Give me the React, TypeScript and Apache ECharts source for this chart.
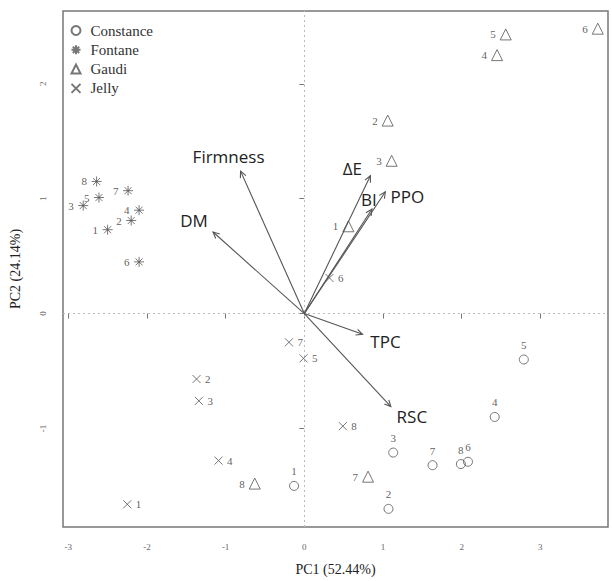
import React, { useEffect, useRef } from "react";
import * as echarts from "echarts";

// ---- data ----
const sampleIds = [1, 2, 3, 4, 5, 6, 7, 8];

const constancePC1 = [-0.13, 1.07, 1.13, 2.42, 2.79, 2.08, 1.63, 1.99];
const constancePC2 = [-1.5, -1.7, -1.21, -0.9, -0.4, -1.29, -1.32, -1.31];

const fontanePC1 = [-2.5, -2.2, -2.81, -2.1, -2.61, -2.1, -2.24, -2.64];
const fontanePC2 = [0.73, 0.81, 0.94, 0.9, 1.01, 0.45, 1.07, 1.15];

const gaudiPC1 = [0.56, 1.06, 1.11, 2.45, 2.56, 3.73, 0.81, -0.63];
const gaudiPC2 = [0.76, 1.68, 1.33, 2.25, 2.43, 2.48, -1.42, -1.48];

const jellyPC1 = [-2.25, -1.37, -1.34, -1.09, -0.01, 0.32, -0.195, 0.49];
const jellyPC2 = [-1.66, -0.57, -0.76, -1.28, -0.39, 0.31, -0.25, -0.98];

const variableNames = ["Firmness", "DM", "ΔE", "BI", "PPO", "TPC", "RSC"];
const loadingPC1 = [-0.81, -1.16, 0.84, 0.86, 1.03, 0.74, 1.1];
const loadingPC2 = [1.24, 0.71, 1.2, 0.91, 1.06, -0.18, -0.81];

const xTicks = [-3, -2, -1, 0, 1, 2, 3];
const yTicks = [-1, 0, 1, 2];

// ---- styling ----
const labelOffsets: number[][] = [
  [-12, -15],
  [-19, -12],
  [-18, -7],
  [-3, -10],
  [22, 5],
  [23, 7],
  [21, 10],
];
const SERIF = "Liberation Serif";
const INK = "#555";
const ASTERISK = "path://M5,0L5,10M0,5L10,5M1.5,1.5L8.5,8.5M8.5,1.5L1.5,8.5";
const CROSS = "path://M0,0L10,10M10,0L0,10";

const pairs = (a: number[], b: number[]) => a.map((v, i) => [v, b[i]]);

export default function App() {
  const ref = useRef<HTMLDivElement>(null);
  useEffect(() => {
    if (!ref.current) return;
    const chart = echarts.init(ref.current, undefined, { renderer: "svg" });

    const pointLabel = (position: string) => ({
      show: true,
      position,
      distance: 2,
      formatter: (p: any) => String(sampleIds[p.dataIndex]),
      fontFamily: SERIF,
      fontSize: 11,
      color: "#333",
    });
    const hollow = { color: "none", borderColor: INK, borderWidth: 1 };

    const option: any = {
      animation: false,
      backgroundColor: "#fff",
      color: ["#555", "#555", "#555", "#555", "#555"],
      grid: {
        left: 63,
        top: 11,
        width: 545,
        height: 517,
        show: true,
        borderColor: "#777",
        borderWidth: 1.5,
        backgroundColor: "transparent",
      },
      legend: {
        orient: "vertical",
        left: 64,
        top: 18,
        itemWidth: 9,
        itemHeight: 9,
        itemGap: 4.3,
        textStyle: {
          fontFamily: SERIF,
          fontSize: 15,
          color: "#333",
          padding: [0, 0, 0, 5],
        },
        data: ["Constance", "Fontane", "Gaudi", "Jelly"],
      },
      xAxis: {
        type: "value",
        min: -3.067,
        max: 3.86,
        name: "PC1 (52.44%)",
        nameLocation: "middle",
        nameGap: 35,
        nameTextStyle: { fontFamily: SERIF, fontSize: 14, color: "#222" },
        axisLine: { show: false },
        axisTick: {
          show: true,
          customValues: xTicks,
          length: 5,
          lineStyle: { color: "#777" },
        },
        axisLabel: {
          customValues: xTicks,
          margin: 15,
          fontFamily: SERIF,
          fontSize: 9,
          color: "#666",
        },
        splitLine: { show: false },
      },
      yAxis: {
        type: "value",
        min: -1.858,
        max: 2.634,
        name: "PC2 (24.14%)",
        nameLocation: "middle",
        nameGap: 41,
        nameTextStyle: { fontFamily: SERIF, fontSize: 14, color: "#222" },
        axisLine: { show: false },
        axisTick: {
          show: true,
          customValues: yTicks,
          length: 5,
          lineStyle: { color: "#777" },
        },
        axisLabel: {
          customValues: yTicks,
          rotate: 90,
          margin: 16,
          fontFamily: SERIF,
          fontSize: 9,
          color: "#666",
        },
        splitLine: { show: false },
      },
      series: [
        {
          name: "Constance",
          type: "scatter",
          symbol: "circle",
          symbolSize: 9,
          itemStyle: hollow,
          label: pointLabel("top"),
          data: pairs(constancePC1, constancePC2),
          z: 3,
          markLine: {
            silent: true,
            symbol: "none",
            label: { show: false },
            lineStyle: { type: [2, 3], color: "#bbb", width: 1 },
            data: [{ xAxis: 0 }, { yAxis: 0 }],
            z: 1,
          },
        },
        {
          name: "Fontane",
          type: "scatter",
          symbol: ASTERISK,
          symbolSize: 10,
          itemStyle: hollow,
          label: pointLabel("left"),
          data: pairs(fontanePC1, fontanePC2),
          z: 3,
        },
        {
          name: "Gaudi",
          type: "scatter",
          symbol: "triangle",
          symbolSize: 11,
          itemStyle: hollow,
          label: pointLabel("left"),
          data: pairs(gaudiPC1, gaudiPC2),
          z: 3,
        },
        {
          name: "Jelly",
          type: "scatter",
          symbol: CROSS,
          symbolSize: 8,
          itemStyle: hollow,
          label: pointLabel("right"),
          data: pairs(jellyPC1, jellyPC2),
          z: 3,
        },
        {
          name: "loadings",
          type: "custom",
          silent: true,
          z: 4,
          encode: { x: 0, y: 1 },
          data: pairs(loadingPC1, loadingPC2),
          renderItem: (params: any, api: any) => {
            const i = params.dataIndex;
            const p0 = api.coord([0, 0]);
            const p1 = api.coord([api.value(0), api.value(1)]);
            const ang = Math.atan2(p1[1] - p0[1], p1[0] - p0[0]);
            const L = 7;
            const a = Math.PI / 7;
            const h1 = [p1[0] - L * Math.cos(ang - a), p1[1] - L * Math.sin(ang - a)];
            const h2 = [p1[0] - L * Math.cos(ang + a), p1[1] - L * Math.sin(ang + a)];
            const off = labelOffsets[i];
            return {
              type: "group",
              children: [
                {
                  type: "line",
                  shape: { x1: p0[0], y1: p0[1], x2: p1[0], y2: p1[1] },
                  style: { stroke: "#555", lineWidth: 1.1 },
                },
                {
                  type: "polyline",
                  shape: { points: [h1, p1, h2] },
                  style: { stroke: "#555", lineWidth: 1.1, fill: "none" },
                },
                {
                  type: "text",
                  x: p1[0] + off[0],
                  y: p1[1] + off[1],
                  style: {
                    text: variableNames[i],
                    fontFamily: "Open Sans",
                    fontSize: 17,
                    fill: "#222",
                    align: "center",
                    verticalAlign: "middle",
                  },
                },
              ],
            };
          },
        },
      ],
    };
    chart.setOption(option);
    return () => chart.dispose();
  }, []);
  return (
    <div
      ref={ref}
      style={{ position: "fixed", left: 0, top: 0, width: 612, height: 581 }}
    />
  );
}
